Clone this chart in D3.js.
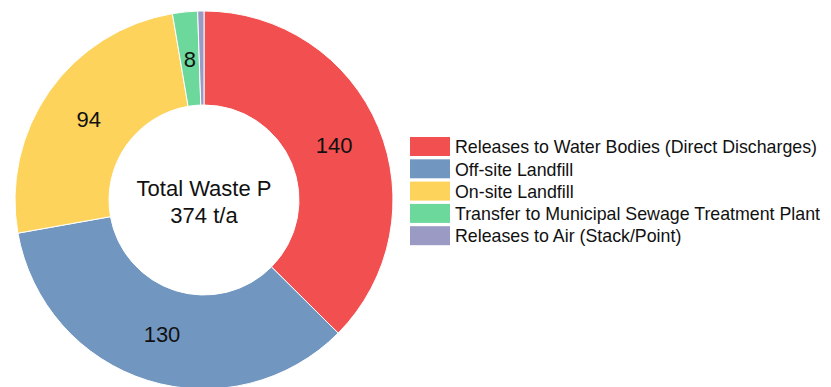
<!DOCTYPE html>
<html>
<head>
<meta charset="utf-8">
<script src="https://cdn.jsdelivr.net/npm/d3@7"></script>
<style>
  body { margin: 0; background: #fff; }
  text { font-family: "Liberation Sans", Arial, sans-serif; fill: #111; }
</style>
</head>
<body>
<svg width="831" height="387"></svg>
<script>
const categories = [
  "Releases to Water Bodies (Direct Discharges)",
  "Off-site Landfill",
  "On-site Landfill",
  "Transfer to Municipal Sewage Treatment Plant",
  "Releases to Air (Stack/Point)"
];
const values = [140, 130, 94, 8, 2];
const labels = ["140", "130", "94", "8", ""];
const colors = ["#f24f50", "#7197c0", "#fdd35b", "#6dd89b", "#9a9ac4"];
const centerText = ["Total Waste P", "374 t/a"];

const svg = d3.select("svg"),
    cx = 204, cy = 200,
    outerR = 189, innerR = 95;

const color = d3.scaleOrdinal().domain(categories).range(colors);

const pie = d3.pie().sort(null).value(d => d.value);
const arc = d3.arc().innerRadius(innerR).outerRadius(outerR);
const labelArc = d3.arc().innerRadius(141).outerRadius(141);

const data = categories.map((c, i) => ({name: c, value: values[i], label: labels[i]}));

const g = svg.append("g").attr("transform", `translate(${cx},${cy})`);

g.selectAll("path")
  .data(pie(data))
  .enter().append("path")
    .attr("d", arc)
    .attr("fill", d => color(d.data.name))
    .attr("stroke", "#fff")
    .attr("stroke-width", 1);

g.selectAll("text.val")
  .data(pie(data))
  .enter().append("text")
    .attr("class", "val")
    .attr("transform", d => `translate(${labelArc.centroid(d)})`)
    .attr("text-anchor", "middle")
    .attr("dy", "0.35em")
    .attr("font-size", "22px")
    .text(d => d.data.label);

g.selectAll("text.center")
  .data(centerText)
  .enter().append("text")
    .attr("class", "center")
    .attr("text-anchor", "middle")
    .attr("y", (d, i) => -12 + i * 27)
    .attr("dy", "0.35em")
    .attr("font-size", "22px")
    .text(d => d);

// legend
const legend = svg.append("g").attr("transform", "translate(410,137)");
const row = legend.selectAll("g")
  .data(categories)
  .enter().append("g")
    .attr("transform", (d, i) => `translate(0,${i * 22.3})`);

row.append("rect")
  .attr("width", 40)
  .attr("height", 19)
  .attr("fill", d => color(d));

row.append("text")
  .attr("x", 45)
  .attr("y", 10)
  .attr("dy", "0.35em")
  .attr("font-size", "17.8px")
  .text(d => d);
</script>
</body>
</html>
